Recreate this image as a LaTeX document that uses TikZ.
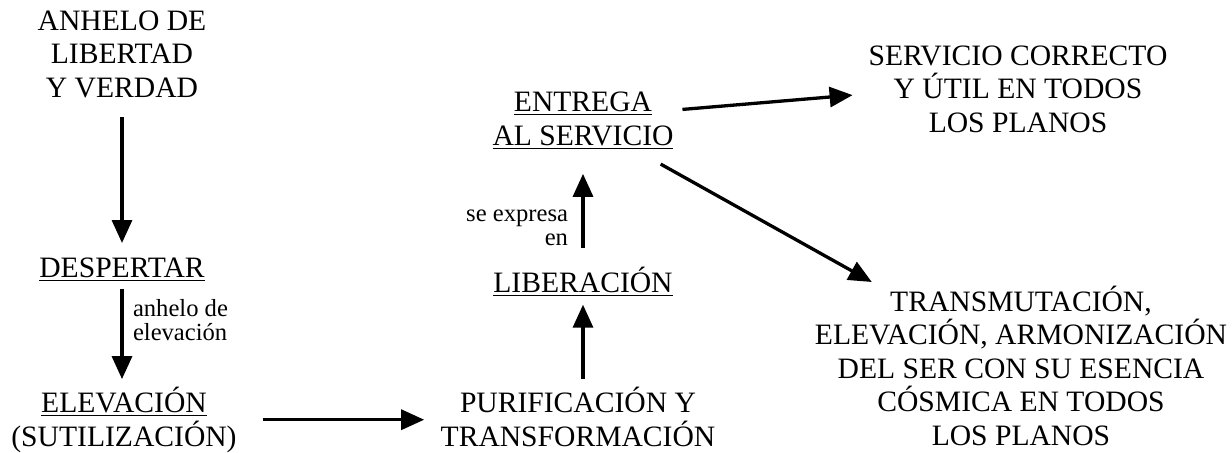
\documentclass[tikz,border=0pt]{standalone}
\usepackage{fontspec}
\setmainfont{Liberation Serif}
\usetikzlibrary{arrows.meta}

\begin{document}
\begin{tikzpicture}[x=0.5pt, y=-0.5pt,
    texto/.style={inner sep=0pt, outer sep=0pt, align=center, anchor=base,
      font=\fontsize{14.8}{16.75}\selectfont},
    etiqueta/.style={inner sep=0pt, outer sep=0pt,
      font=\fontsize{12.3}{12}\selectfont},
    flecha/.style={line width=1.65pt, -{Triangle[length=11.5pt, width=10pt]}}]
      \useasboundingbox (0,0) rectangle (1232,452);

      \node[texto] (anhelo) at (122,97) {ANHELO DE\\LIBERTAD\\Y VERDAD};
      \node[texto] (despertar) at (122,277) {\underline{DESPERTAR}};
      \node[texto] (elevacion) at (124,446) {\underline{ELEVACIÓN}\\(SUTILIZACIÓN)};
      \node[texto] (purificacion) at (578,446) {PURIFICACIÓN Y\\TRANSFORMACIÓN};
      \node[texto] (liberacion) at (583,292) {\underline{LIBERACIÓN}};
      \node[texto] (entrega) at (583,145) {\underline{ENTREGA}\\\underline{AL SERVICIO}};
      \node[texto] (servicio) at (1018,132) {SERVICIO CORRECTO\\Y ÚTIL EN TODOS\\LOS PLANOS};
      \node[texto] (transmutacion) at (1021,445)
        {TRANSMUTACIÓN,\\ELEVACIÓN, ARMONIZACIÓN\\DEL SER CON SU ESENCIA\\CÓSMICA EN TODOS\\LOS PLANOS};

      \node[etiqueta, align=left, anchor=base west] (anhelodeelev) at (133,340) {anhelo de\\elevación};
      \node[etiqueta, align=right, anchor=base east] (seexpresa) at (568,245) {se expresa\\en};

      \draw[flecha, shorten <=10pt, shorten >=7.2pt] (anhelo) -- (despertar);
      \draw[flecha, shorten <=3.7pt, shorten >=4pt] (despertar.south) -- (despertar.south |- elevacion.north);
      \draw[flecha, shorten <=13pt, shorten >=8.25pt] (elevacion.east) -- (elevacion.east -| purificacion.west);
      \draw[flecha, shorten <=4pt, shorten >=4.2pt] (liberacion.south |- purificacion.north) -- (liberacion.south);
      \draw[flecha, shorten <=9.2pt, shorten >=12.2pt] (liberacion.north) -- (entrega.south);
      \draw[flecha, shorten <=4.5pt, shorten >=8pt] ([yshift=5.25pt]entrega.east) -- ([yshift=-2.45pt]servicio.west);
      \draw[flecha, shorten <=15pt, shorten >=3.7pt] (entrega) -- (transmutacion);
\end{tikzpicture}
\end{document}
